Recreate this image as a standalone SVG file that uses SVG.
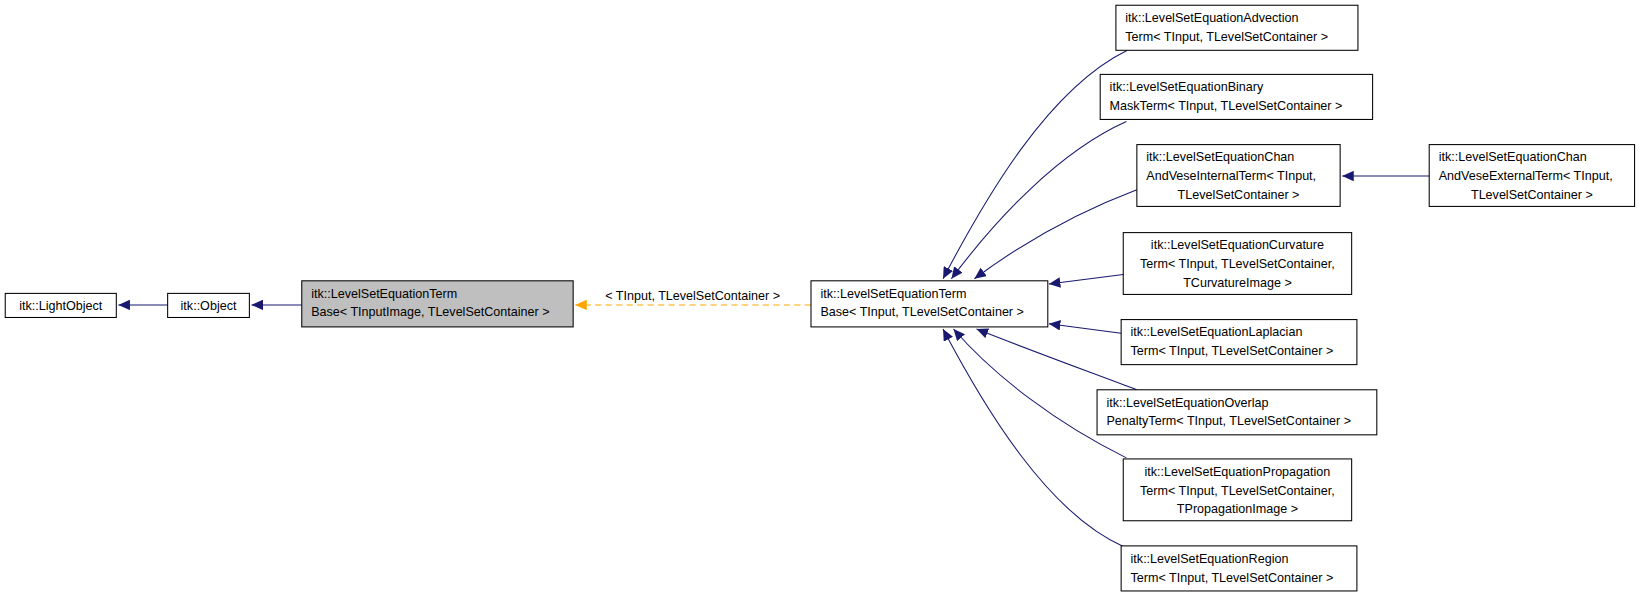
<svg xmlns="http://www.w3.org/2000/svg" width="1643" height="597" viewBox="0 0 1643 597">
<style>
.n rect{fill:#fff;stroke:#000;stroke-width:1}
.n text{font-family:"Liberation Sans",Arial,sans-serif;font-size:12px;fill:#000}
.e{fill:none;stroke:#191970;stroke-width:1}
.d{fill:none;stroke:#ffa500;stroke-width:1;stroke-dasharray:6,4}
.l{font-family:"Liberation Sans",Arial,sans-serif;font-size:12px;fill:#000}
</style>
<defs>
<marker id="a" markerWidth="12" markerHeight="10" refX="11" refY="5" orient="auto" markerUnits="userSpaceOnUse"><path d="M0,0 L11,5 L0,10 Z" fill="#191970"/></marker>
<marker id="o" markerWidth="12" markerHeight="10" refX="11" refY="5" orient="auto" markerUnits="userSpaceOnUse"><path d="M0,0 L11,5 L0,10 Z" fill="#ffa500"/></marker>
</defs>
<rect width="1643" height="597" fill="#fff"/>
<g transform="scale(1.0478)">
<g id="edges">
<path class="e" marker-end="url(#a)" d="M160,291 L113,291"/>
<path class="e" marker-end="url(#a)" d="M288,291 L240,291"/>
<path class="d" marker-end="url(#o)" d="M774,291 L549,291"/>
<text class="l" x="661" y="286" text-anchor="middle">&lt; TInput, TLevelSetContainer &gt;</text>
<path class="e" marker-end="url(#a)" d="M1076,48 C1000,85 940,190 900,266"/>
<path class="e" marker-end="url(#a)" d="M1075,116 C1010,145 950,210 908,266"/>
<path class="e" marker-end="url(#a)" d="M1085,181 C1040,198 985,225 930,266"/>
<path class="e" marker-end="url(#a)" d="M1072,262 L1001,271"/>
<path class="e" marker-end="url(#a)" d="M1070,318 L1001,309"/>
<path class="e" marker-end="url(#a)" d="M1085,372 C1040,355 985,335 932,314"/>
<path class="e" marker-end="url(#a)" d="M1075,437 C1010,405 950,360 910,314"/>
<path class="e" marker-end="url(#a)" d="M1073,522 C1000,490 940,390 900,314"/>
<path class="e" marker-end="url(#a)" d="M1364,168 L1281,168"/>
</g>
<g id="n1" class="n"><rect x="5" y="280" width="106" height="23"/><text x="58" y="296" text-anchor="middle">itk::LightObject</text></g>
<g id="n2" class="n"><rect x="160" y="280" width="78" height="23"/><text x="199" y="296" text-anchor="middle">itk::Object</text></g>
<g id="n3" class="n"><rect x="288" y="268" width="259" height="44" style="fill:#bfbfbf"/><text x="297" y="284">itk::LevelSetEquationTerm</text><text x="297" y="302">Base&lt; TInputImage, TLevelSetContainer &gt;</text></g>
<g id="n4" class="n"><rect x="774" y="268" width="226" height="44"/><text x="783" y="284">itk::LevelSetEquationTerm</text><text x="783" y="302">Base&lt; TInput, TLevelSetContainer &gt;</text></g>
<g id="n5" class="n"><rect x="1065" y="5" width="231" height="43"/><text x="1074" y="21">itk::LevelSetEquationAdvection</text><text x="1074" y="39">Term&lt; TInput, TLevelSetContainer &gt;</text></g>
<g id="n6" class="n"><rect x="1050" y="71" width="260" height="43"/><text x="1059" y="87">itk::LevelSetEquationBinary</text><text x="1059" y="105">MaskTerm&lt; TInput, TLevelSetContainer &gt;</text></g>
<g id="n7" class="n"><rect x="1085" y="138" width="194" height="59"/><text x="1094" y="154">itk::LevelSetEquationChan</text><text x="1094" y="172">AndVeseInternalTerm&lt; TInput,</text><text x="1182" y="190" text-anchor="middle">TLevelSetContainer &gt;</text></g>
<g id="n8" class="n"><rect x="1364" y="138" width="196" height="59"/><text x="1373" y="154">itk::LevelSetEquationChan</text><text x="1373" y="172">AndVeseExternalTerm&lt; TInput,</text><text x="1462" y="190" text-anchor="middle">TLevelSetContainer &gt;</text></g>
<g id="n9" class="n"><rect x="1072" y="222" width="218" height="59"/><text x="1181" y="238" text-anchor="middle">itk::LevelSetEquationCurvature</text><text x="1181" y="256" text-anchor="middle">Term&lt; TInput, TLevelSetContainer,</text><text x="1181" y="274" text-anchor="middle">TCurvatureImage &gt;</text></g>
<g id="n10" class="n"><rect x="1070" y="305" width="225" height="43"/><text x="1079" y="321">itk::LevelSetEquationLaplacian</text><text x="1079" y="339">Term&lt; TInput, TLevelSetContainer &gt;</text></g>
<g id="n11" class="n"><rect x="1047" y="372" width="267" height="43"/><text x="1056" y="388">itk::LevelSetEquationOverlap</text><text x="1056" y="406">PenaltyTerm&lt; TInput, TLevelSetContainer &gt;</text></g>
<g id="n12" class="n"><rect x="1072" y="438" width="218" height="59"/><text x="1181" y="454" text-anchor="middle">itk::LevelSetEquationPropagation</text><text x="1181" y="472" text-anchor="middle">Term&lt; TInput, TLevelSetContainer,</text><text x="1181" y="490" text-anchor="middle">TPropagationImage &gt;</text></g>
<g id="n13" class="n"><rect x="1070" y="521" width="225" height="43"/><text x="1079" y="537">itk::LevelSetEquationRegion</text><text x="1079" y="555">Term&lt; TInput, TLevelSetContainer &gt;</text></g>
</g>
</svg>
